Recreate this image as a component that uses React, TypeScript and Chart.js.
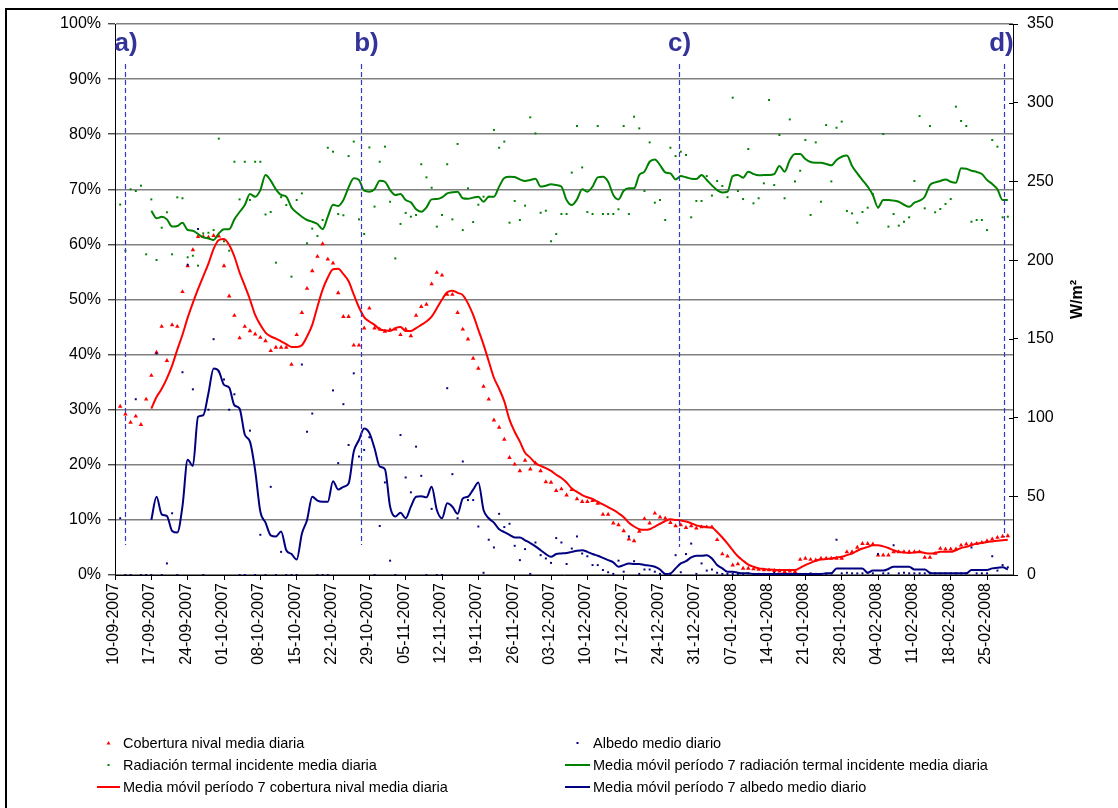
import React, { useEffect, useRef } from 'react';
import { Chart, registerables } from 'chart.js';

Chart.register(...registerables);

const FONT = '"Liberation Sans", Arial, sans-serif';

// Tick labels of the category (day) axis, one every 7 days starting 10-09-2007
const dateLabels = [
  '10-09-2007', '17-09-2007', '24-09-2007', '01-10-2007', '08-10-2007', '15-10-2007',
  '22-10-2007', '29-10-2007', '05-11-2007', '12-11-2007', '19-11-2007', '26-11-2007',
  '03-12-2007', '10-12-2007', '17-12-2007', '24-12-2007', '31-12-2007', '07-01-2008',
  '14-01-2008', '21-01-2008', '28-01-2008', '04-02-2008', '11-02-2008', '18-02-2008',
  '25-02-2008',
];
const dayCount = 173; // days 0..173 on the axis

// Cobertura nival media diaria (%), day 0..173
const cobertura = [
  null, 30.6, 29.2, 27.7, 28.8, 27.3, 31.9, 36.2, 40.4, 45.1,
  38.9, 45.4, 45.1, 51.4, 56.1, 59, 61.4, 61.4, 61.3, 61.6,
  61.5, 56.1, 50.6, 47.1, 43, 45.1, 44.3, 43.7, 43.1, 42.5,
  40.7, 41.3, 41.3, 41.3, 38.2, 43.6, 47.6, 52, 55.2, 57.8,
  60.1, 57.3, 56.6, 51.2, 46.9, 46.9, 41.7, 41.7, 44.8, 48.4,
  44.8, 44.6, 44.2, 44.5, 44.6, 43.6, 44.6, 43.4, 47.1, 48.7,
  49.1, 52.8, 54.9, 54.4, 50.9, 50.9, 47.6, 44.6, 42.8, 39.3,
  37.5, 34.2, 31.9, 28.1, 26.8, 24.6, 21.3, 20.1, 18.9, 20.8,
  19.2, 20.3, 18.9, 16.9, 16.8, 15.3, 15.6, 14.5, 15.5, 13.8,
  13.3, 13.3, 13.5, 13, 11, 11, 9.4, 9.1, 8, 6.5,
  6.2, 7.9, 10.2, 9.4, 11.2, 10.5, 10.3, 9.5, 8.9, 9.1,
  8.6, 8.9, 8.5, 8.7, 8.7, 8.7, 6.4, 3.8, 3.4, 1.8,
  2, 1.2, 1.2, 1.1, 1, 0.9, 0.9, 0.8, 0.7, 0.6,
  0.7, 0.6, 2.8, 3, 2.8, 2.7, 3, 3, 3, 3,
  3, 4.2, 4.2, 5, 5.7, 5.7, 5.6, 3.6, 3.6, 3.6,
  4.2, 4.2, 4.2, 4.2, 4.2, 4.2, 3.2, 3.2, 3.9, 4.8,
  4.7, 4.7, 4.7, 5.4, 5.6, 5.6, 5.7, 5.9, 6.2, 6.5,
  6.8, 7, 7.1, null,
];

// Albedo medio diario (%), day 0..173
const albedo = [
  null, 10.3, 0, 0, 31.9, 0, 0, 0, 40.2, 0,
  2.1, 11.2, 0, 36.8, 56.3, 33.7, 62.8, 0, 30, 42.8,
  36.9, 35.5, 30, 32.8, 0, 0, 26.2, 0, 7.3, 0,
  16, 0, 4.2, 0, 0, 0, 38.2, 26, 29.3, 0,
  0, 0, 33.5, 20.3, 31, 23.6, 36.6, 21.5, 22.7, 25,
  0, 8.9, 16.8, 2.6, 0, 25.4, 17.7, 15, 23.3, 18,
  0, 12, 0, 0, 33.9, 18.3, 10.3, 20.6, 13.6, 13.6,
  8.8, 0.4, 6.4, 5, 11.1, 8.7, 9.3, 5.3, 2.7, 4.7,
  0.2, 5.9, 3.6, 3, 2.2, 6.7, 5.9, 2, 4.8, 7,
  3.9, 3.4, 1.8, 1.8, 0.9, 0.5, 0.2, 2.6, 0.6, 7,
  2.5, 0.2, 1, 1, 0.6, 0.2, 0.2, 0.2, 3.6, 0.5,
  3.8, 5.7, 0.2, 2.1, 0.8, 1, 0.4, 0.2, 0.2, 0.2,
  0.2, 0.2, 0.3, 0.2, 0.2, 0.2, 0.2, 0.4, 0.2, 0.2,
  0.2, 0.2, 0.2, 0.2, 0.3, 0.2, 0.2, 0.2, 0.3, 6.4,
  0.3, 0.4, 0.3, 0.3, 0.3, 0.4, 0.3, 3.8, 0.3, 0.3,
  5.4, 0.3, 0.4, 0.3, 0.3, 0.3, 0.3, 0.3, 0.3, 0.3,
  0.3, 0.3, 0.3, 0.3, 0.3, 5, 0.3, 0.3, 0.3, 3.4,
  0.8, 1.8, 1.4, null,
];

// Radiación termal incidente media diaria (W/m2), day 0..173
const radiacion = [
  null, 235.3, 206, 245, 243.9, 247.3, 203.7, 238.6, 200.1, 220.6,
  230.4, 203.7, 239.9, 239.3, 201.8, 202.8, 196.5, 217, 217.4, 219.1,
  277.2, 212, 206, 262.5, 238.6, 262.5, 238.2, 262.5, 262.5, 229,
  230.6, 198.4, 240, 235, 189.5, 238.2, 242.4, 210.7, 220, 215.3,
  225.5, 271.4, 268.9, 229.3, 228.5, 266.1, 275.3, 225.9, 216.6, 271.6,
  234, 262.5, 272.1, 237.1, 201.1, 223, 230, 227.6, 228.7, 260.9,
  252.6, 246, 221.3, 228.7, 260.9, 225.9, 273.8, 219.1, 245.6, 224.2,
  235.2, 240.3, 240.3, 282.7, 271.4, 275.3, 223.8, 237.6, 225.5, 234.6,
  290.7, 280.5, 230.1, 231.4, 212, 216.6, 229.3, 229.3, 255.6, 285.2,
  258.9, 230.6, 229.3, 285.2, 229.3, 229.3, 229.3, 232.3, 285.2, 229.3,
  291.1, 283.7, 243.9, 274.8, 236.5, 238.2, 225.5, 271.4, 266.1, 268.9,
  266.8, 227.2, 237.6, 237.6, 253.4, 241, 250.3, 247.1, 240, 303.2,
  243.9, 238.8, 270.6, 236.1, 239.3, 248.8, 301.7, 247.7, 279.5, 239.3,
  289.4, 250, 256.8, 276.3, 228.7, 274.8, 237.1, 285.8, 250, 284.1,
  288, 231.2, 229.7, 223.8, 230.6, 233.3, 242, 233.5, 280.1, 221.3,
  229.3, 221.9, 224.4, 227.2, 250.3, 291.5, 232.9, 285.2, 230.4, 232.5,
  235.7, 238.8, 297.5, 288.4, 285.2, 224.4, 225.5, 225.5, 219.1, 276.3,
  272.1, 227.2, 227.6, null,
];

// Media móvil período 7 radiación termal incidente media diaria (W/m2)
const mmRadiacion = [
  null, null, null, null, null, null, null, 231.4, 226.6, 227.5,
  225.9, 221.3, 221.7, 223.8, 219.1, 218.7, 216.6, 214.5, 213.8, 212.8,
  217, 219.6, 219.6, 225.9, 230.6, 235, 242, 240.3, 244.5, 254.1,
  250.5, 245, 241.4, 240.3, 233.5, 230.2, 227.6, 225.5, 224.4, 223,
  219.6, 227.6, 235.2, 234.4, 238.2, 246.2, 252, 250.9, 244.1, 243.5,
  245, 250.5, 249.8, 244.5, 241.4, 242, 238.2, 236.7, 232.3, 230.8,
  233.5, 238.6, 238.8, 239.9, 242.4, 243.1, 243.5, 239.3, 239, 239.7,
  240.3, 237.1, 240.3, 240.3, 246.7, 252.2, 253, 252.8, 251.3, 250.3,
  250.9, 251.7, 246.7, 247.3, 248.2, 247.7, 246.7, 238.2, 235, 238.6,
  245, 243.5, 246.7, 252.6, 253, 249.8, 241.4, 238.6, 244.1, 245.6,
  245.6, 254.1, 256.2, 262.5, 264, 260.4, 255.8, 255.1, 251.3, 253.4,
  252.6, 251.7, 251.5, 254.1, 250.9, 247.5, 244.5, 242.9, 243.5, 253.4,
  254.1, 252.4, 256.2, 254.7, 253.9, 254.1, 254.1, 254.7, 259.8, 256.2,
  263.6, 267.4, 267.4, 264.2, 262.3, 261.9, 261.9, 261.1, 260.2, 263.6,
  265.7, 266.4, 259.8, 255.1, 250.9, 246.7, 241.4, 233.5, 238.2, 238.2,
  237.8, 237.1, 235.2, 233.9, 236.5, 237.8, 240.3, 247.7, 249.4, 250.3,
  251.3, 249.8, 249.2, 258.3, 258.1, 256.8, 256, 254.7, 250.9, 248.4,
  245, 238.2, 238.2, null,
];

// Media móvil período 7 cobertura nival media diaria (%)
const mmCobertura = [
  null, null, null, null, null, null, null, 30.2, 32.3, 33.8,
  35.7, 38, 40.9, 43.6, 46.7, 49.4, 51.9, 54.2, 56.5, 59.2,
  60.8, 61, 59.9, 57.8, 54.9, 52.5, 50, 47.2, 45.4, 44,
  43.3, 42.9, 42.4, 41.9, 41.4, 41.4, 41.7, 43.3, 45.4, 48.7,
  51.8, 54, 55.5, 55.6, 54.6, 53.3, 50.9, 48.6, 46.8, 46,
  45.4, 44.6, 44.4, 44.3, 44.8, 45, 44.3, 44.3, 44.8, 45.4,
  46, 46.9, 48.4, 50, 51.3, 51.6, 51.2, 50.8, 49.3, 47.2,
  44.5, 41.8, 38.8, 35.8, 33.8, 31.5, 28.2, 26, 24.2, 22.2,
  21.3, 20.3, 19.8, 19.4, 18.9, 18.2, 17.6, 16.8, 15.7, 15.1,
  14.5, 14.1, 13.8, 13.3, 12.8, 12.3, 11.8, 11.2, 10.5, 9.5,
  8.8, 8.3, 8.2, 8.3, 8.8, 9.3, 9.8, 10.1, 10, 9.9,
  9.7, 9.4, 9, 8.8, 8.7, 8.6, 7.8, 6.8, 5.7, 4.5,
  3.4, 2.6, 1.9, 1.5, 1.2, 1.1, 1, 0.95, 0.9, 0.9,
  0.9, 0.9, 1.3, 1.8, 2.2, 2.6, 2.8, 2.9, 3, 3.2,
  3.3, 3.6, 3.9, 4.4, 4.8, 5.1, 5.4, 5.4, 5.2, 4.9,
  4.5, 4.2, 4.1, 4, 4.1, 4.2, 4, 3.9, 4, 4.2,
  4.2, 4.2, 4.5, 4.9, 5.1, 5.4, 5.7, 5.8, 6, 6.1,
  6.2, 6.3, 6.4, null,
];

// Media móvil período 7 albedo medio diario (%)
const mmAlbedo = [
  null, null, null, null, null, null, null, 10, 14.2, 11,
  10.7, 8, 7.7, 12.5, 20.9, 19.8, 28.7, 29, 33, 37.5,
  37, 34.5, 34, 30.8, 30.2, 25.5, 24.2, 19, 11.5, 9.5,
  7.2, 7, 7.9, 4.5, 3.8, 2.8, 7.5, 10, 14.2, 13.5,
  13.3, 13.3, 17, 15.5, 16, 16.6, 22.4, 24.5, 26.6, 25.8,
  23, 19.7, 19.2, 12.4, 10.6, 11.3, 10.3, 12.4, 14.2, 14.3,
  14.1, 16, 11.8, 10.3, 13, 12.4, 11.1, 13.9, 14.2, 15.5,
  16.8, 11.8, 10.3, 9.5, 8.3, 7.8, 7.3, 6.8, 6.8, 6.3,
  5.8, 5.2, 4.5, 3.8, 3.3, 3.8, 3.9, 4, 4.2, 4.4,
  4.5, 4.2, 3.8, 3.5, 3.1, 2.7, 2.3, 1.5, 1.8, 2.1,
  2, 2, 1.8, 1.7, 1.5, 1, 0.2, 0.3, 1.2, 2.1,
  2.5, 3.2, 3.5, 3.5, 3.6, 3, 1.8, 1.2, 0.6, 0.6,
  0.4, 0.3, 0.3, 0.2, 0.2, 0.2, 0.2, 0.2, 0.2, 0.2,
  0.2, 0.2, 0.2, 0.2, 0.2, 0.2, 0.2, 0.3, 0.3, 1.2,
  1.2, 1.2, 1.2, 1.2, 1.2, 0.4, 0.8, 0.8, 0.8, 1.1,
  1.5, 1.5, 1.5, 1.5, 1, 1, 1, 0.4, 0.3, 0.3,
  0.3, 0.3, 0.3, 0.3, 0.3, 0.9, 0.9, 0.9, 0.9, 1.2,
  1.3, 1.4, 1, null,
];

// Marked moments (day positions on the axis) and their labels
const markerDays = [1.93, 47.3, 108.7, 171.2];
const markerLabels = ['a)', 'b)', 'c)', 'd)'];

const RED = '#ff0000';
const GREEN = '#008000';
const NAVY = '#000080';

const toXY = (arr: (number | null)[]) => arr.map((y, x) => ({ x, y }));

const legendItems = [
  { col: 0, row: 0, kind: 'tri', color: RED, text: 'Cobertura nival media diaria' },
  { col: 1, row: 0, kind: 'dot', color: NAVY, text: 'Albedo medio diario' },
  { col: 0, row: 1, kind: 'dot', color: GREEN, text: 'Radiación termal incidente media diaria' },
  { col: 1, row: 1, kind: 'line', color: GREEN, text: 'Media móvil período 7 radiación termal incidente media diaria' },
  { col: 0, row: 2, kind: 'line', color: RED, text: 'Media móvil período 7 cobertura nival media diaria' },
  { col: 1, row: 2, kind: 'line', color: NAVY, text: 'Media móvil período 7 albedo medio diario' },
];

const decorations = {
  id: 'decorations',
  beforeDraw(chart: any) {
    const ctx = chart.ctx;
    ctx.save();
    ctx.fillStyle = '#fff';
    ctx.fillRect(0, 0, chart.width, chart.height);
    ctx.fillStyle = '#000';
    ctx.fillRect(5, 8, 2, chart.height);
    ctx.fillRect(5, 8, chart.width, 2);
    ctx.restore();
  },
  afterDraw(chart: any) {
    const ctx = chart.ctx;
    const xs = chart.scales.x;
    const y1 = chart.scales.y1;
    const area = chart.chartArea;
    ctx.save();
    // inner half of right-axis tick marks
    ctx.strokeStyle = '#000';
    ctx.lineWidth = 1;
    for (let v = 0; v <= 350; v += 50) {
      const py = Math.round(y1.getPixelForValue(v)) + 0.5;
      ctx.beginPath();
      ctx.moveTo(area.right - 4, py);
      ctx.lineTo(area.right, py);
      ctx.stroke();
    }
    // dashed marker lines and letters
    const ends = [545, 545, 547, 537];
    const textShift = [0.5, 5, 0, -3];
    markerDays.forEach((d, k) => {
      const px = Math.round(xs.getPixelForValue(d)) + 0.5;
      ctx.strokeStyle = '#3535c8';
      ctx.lineWidth = 1.2;
      ctx.setLineDash([5, 3]);
      ctx.beginPath();
      ctx.moveTo(px, 64);
      ctx.lineTo(px, ends[k]);
      ctx.stroke();
      ctx.setLineDash([]);
      ctx.fillStyle = '#333399';
      ctx.font = `bold 26px ${FONT}`;
      ctx.textAlign = 'center';
      ctx.textBaseline = 'alphabetic';
      ctx.fillText(markerLabels[k], px + textShift[k], 51);
    });
    // right axis title
    ctx.save();
    ctx.translate(1078, (area.top + area.bottom) / 2);
    ctx.rotate(-Math.PI / 2);
    ctx.fillStyle = '#000';
    ctx.font = `bold 16px ${FONT}`;
    ctx.textAlign = 'center';
    ctx.textBaseline = 'middle';
    ctx.fillText('W/m²', 0, 0);
    ctx.restore();
    // legend
    const colX = [{ m0: 97, m1: 120, t: 123 }, { m0: 565, m1: 590, t: 593 }];
    const rowY = [743, 765, 787];
    ctx.font = `14.5px ${FONT}`;
    ctx.textAlign = 'left';
    ctx.textBaseline = 'alphabetic';
    legendItems.forEach((it) => {
      const c = colX[it.col];
      const y = rowY[it.row];
      const cx = (c.m0 + c.m1) / 2;
      ctx.fillStyle = it.color;
      ctx.strokeStyle = it.color;
      if (it.kind === 'line') {
        ctx.lineWidth = 2;
        ctx.beginPath();
        ctx.moveTo(c.m0, y);
        ctx.lineTo(c.m1, y);
        ctx.stroke();
      } else if (it.kind === 'tri') {
        ctx.beginPath();
        ctx.moveTo(cx, y - 2);
        ctx.lineTo(cx + 2, y + 1.5);
        ctx.lineTo(cx - 2, y + 1.5);
        ctx.closePath();
        ctx.fill();
      } else {
        ctx.fillRect(cx - 1, y - 1, 2, 2);
      }
      ctx.fillStyle = '#000';
      ctx.fillText(it.text, c.t, y + 5);
    });
    ctx.restore();
  },
};

export default function App() {
  const ref = useRef<HTMLCanvasElement>(null);

  useEffect(() => {
    if (!ref.current) return;
    Chart.defaults.font.family = FONT;
    Chart.defaults.font.size = 16;
    Chart.defaults.color = '#000';

    const pointDs = (label: string, data: (number | null)[], color: string, style: string, r: number, axis: string, order: number) => ({
      type: 'line' as const,
      label,
      data: toXY(data),
      yAxisID: axis,
      showLine: false,
      pointStyle: style,
      pointRadius: r,
      pointHoverRadius: r,
      pointBackgroundColor: color,
      pointBorderColor: color,
      pointBorderWidth: 0,
      borderColor: color,
      backgroundColor: color,
      order,
    });
    const lineDs = (label: string, data: (number | null)[], color: string, axis: string, order: number) => ({
      type: 'line' as const,
      label,
      data: toXY(data),
      yAxisID: axis,
      borderColor: color,
      backgroundColor: color,
      borderWidth: 2,
      pointRadius: 0,
      pointHoverRadius: 0,
      cubicInterpolationMode: 'monotone' as const,
      spanGaps: false,
      order,
    });

    const chart = new Chart(ref.current, {
      type: 'line',
      data: {
        datasets: [
          pointDs('Cobertura nival media diaria', cobertura, RED, 'triangle', 2.6, 'y', 6),
          pointDs('Albedo medio diario', albedo, NAVY, 'rect', 1.4, 'y', 5),
          pointDs('Radiación termal incidente media diaria', radiacion, GREEN, 'rect', 1.4, 'y1', 4),
          lineDs('Media móvil período 7 radiación termal incidente media diaria', mmRadiacion, GREEN, 'y1', 3),
          lineDs('Media móvil período 7 cobertura nival media diaria', mmCobertura, RED, 'y', 2),
          lineDs('Media móvil período 7 albedo medio diario', mmAlbedo, NAVY, 'y', 1),
        ] as any,
      },
      options: {
        responsive: false,
        animation: false,
        devicePixelRatio: 1,
        events: [],
        layout: { padding: { top: 24, left: 0, right: 0, bottom: 0 } },
        plugins: {
          legend: { display: false },
          tooltip: { enabled: false },
        },
        scales: {
          x: {
            type: 'linear',
            min: 0,
            max: dayCount,
            afterBuildTicks: (scale: any) => {
              scale.ticks = dateLabels.map((_, k) => ({ value: k * 7 }));
            },
            afterFit: (scale: any) => {
              scale.height = 808 - 575;
            },
            ticks: {
              autoSkip: false,
              maxRotation: 90,
              minRotation: 90,
              padding: 3,
              labelOffset: -1.5,
              font: { size: 16 },
              callback: (_v: any, index: number) => dateLabels[index],
            },
            grid: {
              drawOnChartArea: false,
              drawTicks: true,
              tickLength: 5,
              tickColor: '#000',
              color: '#000',
            },
            border: { display: true, color: '#000', width: 1 },
          },
          y: {
            position: 'left',
            min: 0,
            max: 100,
            afterFit: (scale: any) => {
              scale.width = 115;
            },
            ticks: {
              stepSize: 10,
              padding: 7,
              font: { size: 16 },
              callback: (v: any) => `${v}%`,
            },
            grid: {
              color: '#808080',
              lineWidth: 1.6,
              tickLength: 7,
              tickColor: '#000',
              tickWidth: 1,
            },
            border: { display: true, color: '#000', width: 1 },
          },
          y1: {
            position: 'right',
            min: 0,
            max: 350,
            afterFit: (scale: any) => {
              scale.width = 1118 - 1013;
            },
            ticks: {
              stepSize: 50,
              padding: 9,
              font: { size: 16 },
            },
            grid: {
              drawOnChartArea: false,
              tickLength: 5,
              tickColor: '#000',
              color: '#000',
            },
            border: { display: true, color: '#000', width: 1 },
          },
        },
      } as any,
      plugins: [decorations],
    });
    return () => chart.destroy();
  }, []);

  return (
    <div
      style={{
        position: 'absolute',
        left: 0,
        top: 0,
        width: 1118,
        height: 808,
        overflow: 'hidden',
        background: '#fff',
      }}
    >
      <canvas ref={ref} width={1118} height={808} style={{ display: 'block' }} />
    </div>
  );
}
